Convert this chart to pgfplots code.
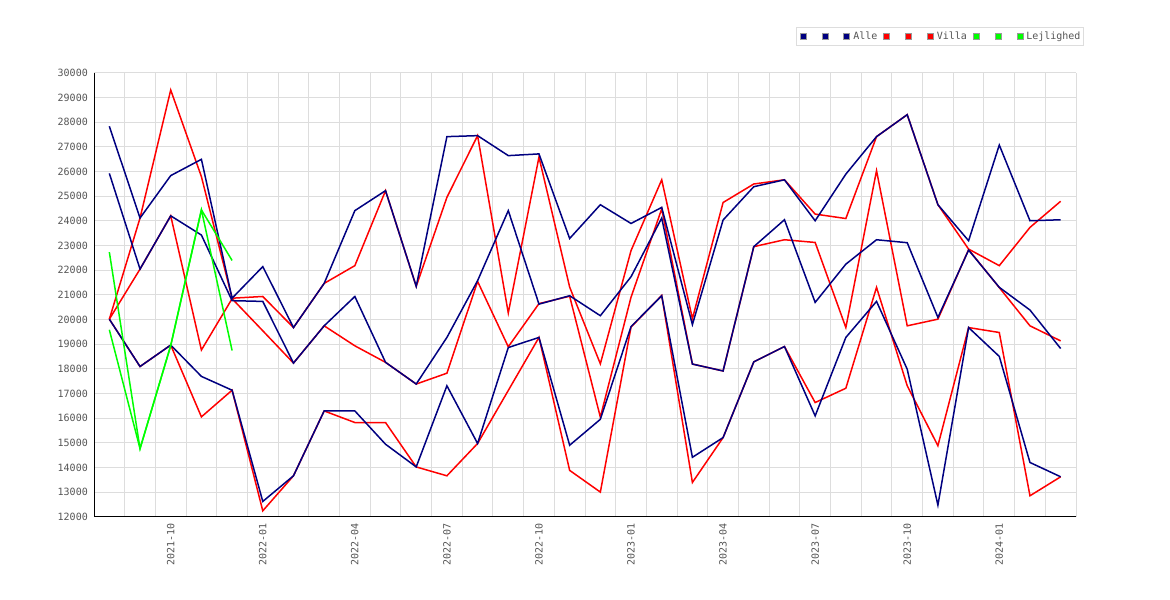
\documentclass[border=0pt]{standalone}
\usepackage{fontspec}
\setmainfont{DejaVu Sans Mono}
\usepackage{pgfplots}
\usepackage{pgfplotstable}
\pgfplotsset{compat=1.18}
\definecolor{navyc}{HTML}{000080}
\definecolor{redc}{HTML}{FF0000}
\definecolor{greenc}{HTML}{00FF00}
\definecolor{gridc}{HTML}{DDDDDD}
\definecolor{txtc}{HTML}{555555}

\pgfplotstableread{
i n1 n2 n3 r1 r2 r3
0 27840 25930 20020 20020 20020 20020
1 24120 22050 18100 24120 22050 18100
2 25840 24210 18970 29310 24210 18970
3 26500 23430 17700 25800 18770 16060
4 20870 20770 17140 20870 20850 17140
5 22150 20740 12630 20940 19550 12250
6 19680 18240 13670 19680 18240 13670
7 21470 19750 16300 21470 19750 16300
8 24420 20940 16300 22190 18940 15830
9 25230 18270 14950 25230 18270 15830
10 21350 17390 14030 21350 17390 14030
11 27420 19280 17320 24960 17830 13670
12 27460 21580 14980 27460 21550 14980
13 26650 24420 18870 20270 18900 17130
14 26720 20630 19280 26590 20650 19280
15 23290 20970 14910 21320 20950 13890
16 24660 20160 15960 18210 16050 13010
17 23900 21740 19720 22800 20910 19700
18 24550 24120 20970 25670 24490 20980
19 19800 18200 14420 20040 18200 13400
20 24040 17920 15220 24750 17920 15220
21 25390 22960 18290 25500 22960 18290
22 25670 24050 18910 25670 23240 18910
23 24010 20700 16100 24280 23130 16640
24 25900 22250 19280 24100 19680 17220
25 27420 23240 20740 27420 26040 21310
26 28310 23120 17990 28310 19750 17320
27 24660 20090 12480 24660 20020 14890
28 23200 22820 19680 22860 22840 19680
29 27080 21310 18510 22190 21300 19480
30 24010 20390 14210 23740 19750 12860
31 24050 18830 13630 24800 19140 13630
}\data

\pgfplotstableread{
i g1 g2
0 22740 19590
1 14770 14770
2 18950 18950
3 24450 24450
4 22400 18750
}\green

\begin{document}
\begin{tikzpicture}
\path[use as bounding box] (0,0) rectangle (1170bp,600bp);
\begin{axis}[
  at={(94bp,83bp)}, anchor=south west,
  scale only axis, width=982bp, height=444bp,
  xmin=-0.5, xmax=31.5, ymin=12000, ymax=30000,
  axis x line*=bottom, axis y line*=left,
  axis line style={black, line width=1bp},
  xtick={2,5,...,29},
  xticklabels={2021-10,2022-01,2022-04,2022-07,2022-10,2023-01,2023-04,2023-07,2023-10,2024-01},
  minor xtick={0.5,1.5,...,31.5},
  ytick={12000,13000,...,30000},
  scaled y ticks=false,
  xmajorgrids=false, xminorgrids=true, ymajorgrids=true,
  major grid style={gridc, line width=1bp},
  minor grid style={gridc, line width=1bp},
  major tick length=0pt, minor tick length=0pt,
  /pgf/number format/.cd, 1000 sep={}, fixed, assume math mode=true, /pgfplots/.cd,
  ticklabel style={font=\fontsize{10bp}{12bp}\selectfont, text=txtc, inner sep=0pt},
  xticklabel style={rotate=90, anchor=east},
  yticklabel style={anchor=east},
  xticklabel shift=6bp, yticklabel shift=6bp,
  legend image code/.code={\filldraw[draw=gray!80, line width=0.8bp] (0bp,-3bp) rectangle (6bp,3bp);},
  legend style={at={(1,1)}, anchor=south east, xshift=8bp, yshift=27bp,
    draw=gridc, line width=1bp, fill=white, inner xsep=3bp, inner ysep=4bp,
    font=\fontsize{10bp}{12bp}\selectfont, text=txtc,
    /tikz/every odd column/.append style={column sep=3bp},
    /tikz/every even column/.append style={column sep=6bp},
    nodes={inner sep=0pt, text height=7.5bp, text depth=2bp}},
  legend columns=9,
  legend cell align=left,
]
\addplot[redc, line width=1.5bp, forget plot] table[x=i, y=r1] {\data};
\addplot[redc, line width=1.5bp, forget plot] table[x=i, y=r2] {\data};
\addplot[redc, line width=1.5bp, forget plot] table[x=i, y=r3] {\data};
\addplot[navyc, line width=1.5bp, forget plot] table[x=i, y=n1] {\data};
\addplot[navyc, line width=1.5bp, forget plot] table[x=i, y=n2] {\data};
\addplot[navyc, line width=1.5bp, forget plot] table[x=i, y=n3] {\data};
\addplot[greenc, line width=1.5bp, forget plot] table[x=i, y=g1] {\green};
\addplot[greenc, line width=1.5bp, forget plot] table[x=i, y=g2] {\green};

\addlegendimage{fill=navyc}\addlegendentry{\mbox{ }}
\addlegendimage{fill=navyc}\addlegendentry{\mbox{ }}
\addlegendimage{fill=navyc}\addlegendentry{Alle}
\addlegendimage{fill=redc}\addlegendentry{\mbox{ }}
\addlegendimage{fill=redc}\addlegendentry{\mbox{ }}
\addlegendimage{fill=redc}\addlegendentry{Villa}
\addlegendimage{fill=greenc}\addlegendentry{\mbox{ }}
\addlegendimage{fill=greenc}\addlegendentry{\mbox{ }}
\addlegendimage{fill=greenc}\addlegendentry{Lejlighed}
\end{axis}
\end{tikzpicture}
\end{document}
